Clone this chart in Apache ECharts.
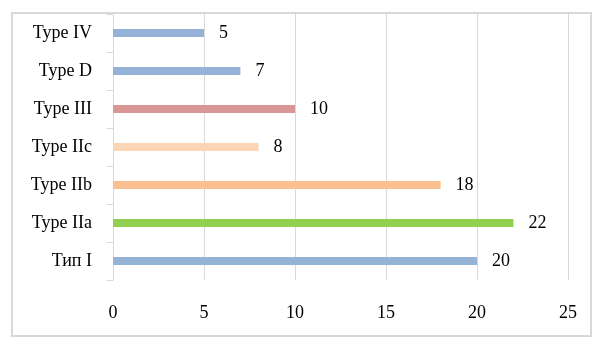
<!DOCTYPE html>
<html>
<head>
<meta charset="utf-8">
<script src="https://cdn.jsdelivr.net/npm/echarts@6/dist/echarts.min.js"></script>
<style>
  html, body { margin: 0; padding: 0; background: #fff; }
  #main { width: 603px; height: 347px; }
</style>
</head>
<body>
<div id="main"></div>
<script>
// categories from bottom to top
var categories = ['Тип I', 'Type IIa', 'Type IIb', 'Type IIc', 'Type III', 'Type D', 'Type IV'];
var values = [20, 22, 18, 8, 10, 7, 5];
var barColors = ['#95B3D7', '#92D050', '#FAC090', '#FCD5B4', '#D99694', '#95B3D7', '#95B3D7'];
var xTicks = [0, 5, 10, 15, 20, 25];

var chart = echarts.init(document.getElementById('main'));
var font = '"Liberation Serif", "Times New Roman", serif';

var option = {
  animation: false,
  graphic: [{
    type: 'rect',
    shape: { x: 12, y: 13, width: 579, height: 323 },
    style: { fill: 'none', stroke: '#D9D9D9', lineWidth: 2 }
  }],
  grid: { left: 113, right: 35, top: 14, bottom: 67 },
  xAxis: {
    type: 'value',
    min: xTicks[0],
    max: xTicks[xTicks.length - 1],
    interval: 5,
    axisLine: { show: false },
    axisTick: { show: false },
    splitLine: { lineStyle: { color: '#D9D9D9', width: 1 } },
    axisLabel: { color: '#000', fontFamily: font, fontSize: 18, margin: 24 }
  },
  yAxis: {
    type: 'category',
    data: categories,
    axisLine: { lineStyle: { color: '#D9D9D9', width: 1 } },
    axisTick: { show: true, length: 6, lineStyle: { color: '#D9D9D9' } },
    axisLabel: { color: '#000', fontFamily: font, fontSize: 18, margin: 21 }
  },
  series: [{
    type: 'bar',
    barWidth: 8,
    data: values.map(function (v, i) {
      return { value: v, itemStyle: { color: barColors[i] } };
    }),
    label: {
      show: true,
      position: 'right',
      distance: 15,
      color: '#000',
      fontFamily: font,
      fontSize: 18
    }
  }]
};
chart.setOption(option);
</script>
</body>
</html>
